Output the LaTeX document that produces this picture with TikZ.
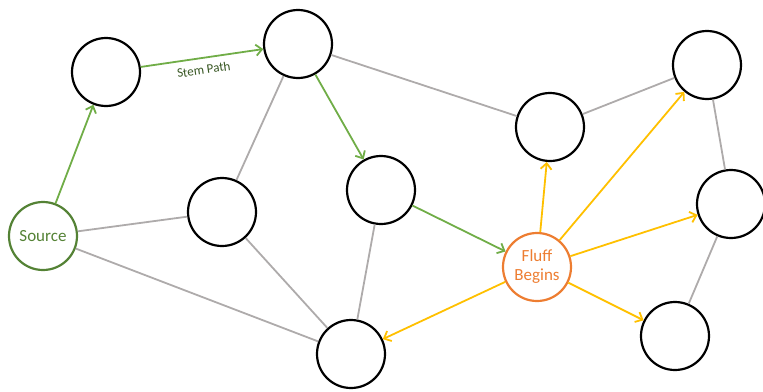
\documentclass[tikz,border=0pt]{standalone}
\usepackage{fontspec}
\setmainfont{Carlito}
\usetikzlibrary{arrows.meta}
\definecolor{stem-green}{HTML}{70AD47}
\definecolor{source-green}{HTML}{548235}
\definecolor{label-green}{HTML}{385723}
\definecolor{fluff-orange}{HTML}{ED7D31}
\definecolor{fluff-yellow}{HTML}{FFC000}
\definecolor{edge-gray}{HTML}{AEABAB}

\begin{document}
\begin{tikzpicture}[
    x=1pt, y=-1pt,
    vertex/.style={
        circle, draw=black, line width=2.2pt, minimum size=68pt, inner sep=0pt,
        font=\fontsize{17}{19}\selectfont, align=center,
    },
    plain/.style={ draw=edge-gray, line width=1.8pt, },
    stem/.style={ draw=stem-green, line width=1.8pt, -{Straight Barb[length=6pt,width=11pt]}, },
    fluff/.style={ draw=fluff-yellow, line width=1.8pt, -{Straight Barb[length=6pt,width=11pt]}, },
]
\useasboundingbox (0,0) rectangle (763,391);

\node[vertex, draw=source-green, text=source-green] (src) at (43,236) {Source};
\node[vertex] (a) at (106,72) {};
\node[vertex] (b) at (298,44) {};
\node[vertex] (c) at (222,212) {};
\node[vertex] (d) at (381,190) {};
\node[vertex] (e) at (550,127) {};
\node[vertex] (f) at (707,65) {};
\node[vertex] (g) at (731,204) {};
\node[vertex, draw=fluff-orange, text=fluff-orange] (fluff) at (537,267) {Fluff\\Begins};
\node[vertex] (h) at (351,354) {};
\node[vertex] (i) at (675,336) {};

% grey links
\draw[plain] (src) -- (c);
\draw[plain] (src) -- (h);
\draw[plain] (c) -- (b);
\draw[plain] (c) -- (h);
\draw[plain] (d) -- (h);
\draw[plain] (b) -- (e);
\draw[plain] (e) -- (f);
\draw[plain] (f) -- (g);
\draw[plain] (g) -- (i);

% stem path
\draw[stem] (src) -- (a);
\draw[stem] (a) -- node[sloped, below=3pt, text=label-green, font=\fontsize{13}{15}\selectfont] {Stem Path} (b);
\draw[stem] (b) -- (d);
\draw[stem] (d) -- (fluff);

% fluff
\draw[fluff] (fluff) -- (e);
\draw[fluff] (fluff) -- (f);
\draw[fluff] (fluff) -- (g);
\draw[fluff] (fluff) -- (i);
\draw[fluff] (fluff) -- (h);
\end{tikzpicture}
\end{document}
